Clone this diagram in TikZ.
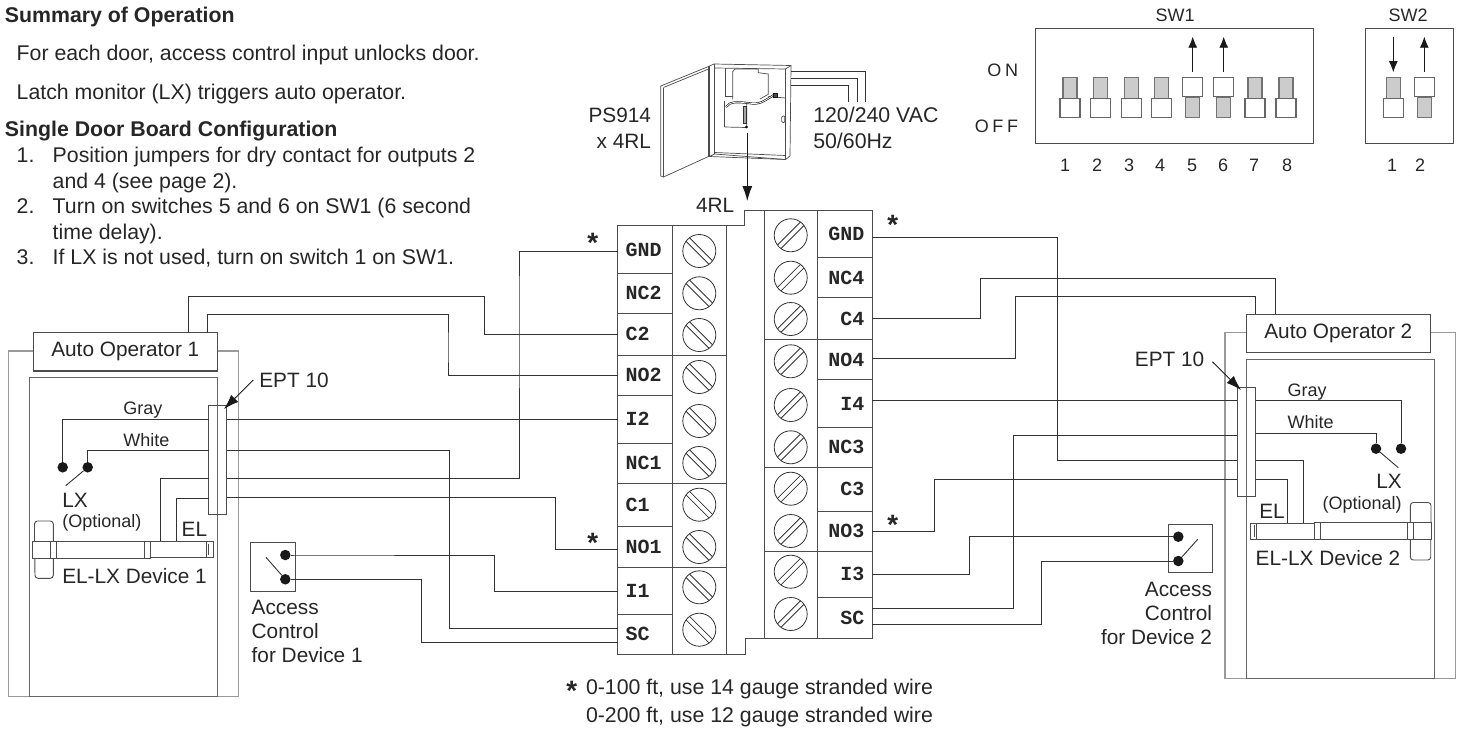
\documentclass[tikz,border=0pt]{standalone}
\usepackage{fontspec}
\usepackage{tikz}
\usetikzlibrary{arrows.meta}
\setmainfont{Liberation Sans}
\setmonofont{Liberation Mono}
\newfontfamily\spacedfont[LetterSpace=20]{Liberation Sans}
\tikzset{
  txt/.style={inner sep=0pt, outer sep=0pt, text=black!85, font=\fontsize{20.8}{24}\selectfont},
  para/.style={txt, font=\fontsize{21.3}{24}\selectfont},
  small/.style={txt, font=\fontsize{18}{21}\selectfont},
  head/.style={txt, font=\fontsize{21.3}{24}\selectfont\bfseries},
  star/.style={inner sep=0pt, text=black!85, font=\fontsize{28}{28}\ttfamily\bfseries},
  wire/.style={draw=black!80, line width=0.9pt},
  thinbox/.style={draw=black!70, line width=1pt},
  dooroff/.style={draw=black!40, line width=1.2pt},
  dev/.style={draw=black!70, line width=0.9pt},
  cab/.style={draw=black!70, line width=0.7pt},
  devbox/.style={rectangle, dev, fill=white, inner sep=0pt, outer sep=0pt},
  opbox/.style={rectangle, draw=black!70, fill=white, line width=1.1pt, inner sep=0pt, outer sep=0pt, text=black!85, font=\fontsize{20.8}{24}\selectfont},
  eptbox/.style={rectangle, draw=black!70, line width=1pt, inner sep=0pt, outer sep=0pt},
  dot/.style={circle, fill=black!90, inner sep=0pt, minimum size=10.5pt},
  termL/.style={rectangle, thinbox, anchor=west, inner xsep=8pt, inner ysep=0pt, outer sep=0pt, text width=39pt, align=left, text=black!85, font=\fontsize{20}{20}\ttfamily\bfseries},
  termR/.style={rectangle, thinbox, anchor=east, inner xsep=8pt, inner ysep=0pt, outer sep=0pt, text width=39pt, align=right, text=black!85, font=\fontsize{20}{20}\ttfamily\bfseries},
  screwL/.style={circle, draw=black!80, line width=0.8pt, minimum size=33pt, inner sep=0pt, path picture={
    \draw[black!80, line width=0.8pt] ([shift={(-18,-14.5)}]path picture bounding box.center) -- ([shift={(14.5,18)}]path picture bounding box.center);
    \draw[black!80, line width=0.8pt] ([shift={(-14.5,-18)}]path picture bounding box.center) -- ([shift={(18,14.5)}]path picture bounding box.center);}},
  screwR/.style={circle, draw=black!80, line width=0.8pt, minimum size=33pt, inner sep=0pt, path picture={
    \draw[black!80, line width=0.8pt] ([shift={(18,-14.5)}]path picture bounding box.center) -- ([shift={(-14.5,18)}]path picture bounding box.center);
    \draw[black!80, line width=0.8pt] ([shift={(14.5,-18)}]path picture bounding box.center) -- ([shift={(-18,14.5)}]path picture bounding box.center);}},
  keyknob/.style={rectangle, draw=black!55, fill=black!20, line width=1.1pt, minimum width=14pt, minimum height=20.5pt, inner sep=0pt},
  keycap/.style={rectangle, draw=black!60, fill=white, line width=1.1pt, minimum width=20pt, minimum height=19.5pt, inner sep=0pt},
  fatarrow/.style={draw=black!90, line width=0.9pt, -{Latex[length=15pt,width=10pt]}},
  keyarrow/.style={draw=black!90, line width=0.9pt, -{Latex[length=11pt,width=9pt]}}
}
\begin{document}
\begin{tikzpicture}[x=1pt, y=-1pt]
  \useasboundingbox (0,0) rectangle (1458,731);

  % Testo in alto a sinistra
  \node[head, anchor=base west] (sumhead) at (5,22.7) {Summary of Operation};
  \node[para, anchor=base west] (sumone) at (16.7,60) {For each door, access control input unlocks door.};
  \node[para, anchor=base west] (sumtwo) at (16.7,99) {Latch monitor (LX) triggers auto operator.};
  \node[head, anchor=base west] (cfghead) at (5,136) {Single Door Board Configuration};
  \node[para, anchor=base west] (numone) at (16.7,162.3) {1.};
  \node[para, anchor=base west] (cfgonea) at (52.7,162.3) {Position jumpers for dry contact for outputs 2};
  \node[para, anchor=base west] (cfgoneb) at (52.7,188.3) {and 4 (see page 2).};
  \node[para, anchor=base west] (numtwo) at (16.7,213.3) {2.};
  \node[para, anchor=base west] (cfgtwoa) at (52.7,213.3) {Turn on switches 5 and 6 on SW1 (6 second};
  \node[para, anchor=base west] (cfgtwob) at (52.7,239) {time delay).};
  \node[para, anchor=base west] (numthree) at (16.7,264.3) {3.};
  \node[para, anchor=base west] (cfgthree) at (52.7,264.3) {If LX is not used, turn on switch 1 on SW1.};

  % Alimentatore
  \draw[cab, fill=white] (660.7,86) -- (708.5,66.5) -- (708.5,156.5) -- (663.5,177) -- (660.7,176) -- cycle;
  \draw[cab] (663.5,87.5) -- (708.5,69);
  \draw[cab] (663.5,87.5) -- (663.5,177);
  \draw[cab, fill=white] (709.5,66) -- (714,64) -- (791,65.5) -- (790,156) -- (785.5,159.5) -- (709.5,156.5) -- cycle;
  \draw[cab] (714.5,64) -- (714.5,154) -- (785.5,159.5);
  \draw[cab] (709.5,156.5) -- (714.5,154);
  \draw[cab] (714.5,152.5) -- (785.5,155.5);
  \draw[cab] (714.5,68) -- (785.5,69) -- (785.5,159.5);
  \draw[cab] (785.5,69) -- (791,65.5);
  \draw[cab] (725,68) -- (725,96.5) -- (732.7,96.5);
  \draw[cab] (768.3,96.5) -- (785.5,98);
  \draw[cab] (732.7,99.3) -- (732.7,71.7) -- (735,69) -- (758.3,69) -- (758.3,72.7) -- (768.3,74) -- (768.3,94.3) -- (760,99);
  \draw[cab] (724.3,127) -- (724.3,100.7);
  \draw[cab] (724.3,127) -- (746.7,127.5) -- (746.7,103);
  \draw[black!90, line width=2pt] (726,107) .. controls (730,101) and (738,102) .. (748,103) .. controls (760,105) and (762,102) .. (774,95);
  \draw[white, line width=0.7pt] (726,107) .. controls (730,101) and (738,102) .. (748,103) .. controls (760,105) and (762,102) .. (774,95);
  \draw[fill=black!70, draw=black!90] (773.5,93) rectangle (777.5,97);
  \draw[draw=black!80, fill=black!35, line width=0.5pt] (743,106) rectangle (746.5,123);
  \draw[fill=black] (746.5,127) circle (1.2);
  \draw[cab, rounded corners=1pt] (781.8,116) rectangle (784.8,122.5);
  \coordinate (psu) at (747.3,133);
  \coordinate (psuout) at (747.3,201);
  \coordinate (mainsa) at (791,71);
  \coordinate (mainsb) at (791,78.3);
  \coordinate (mainsc) at (791,85.7);
  \coordinate (mainsaend) at (865.3,101.7);
  \coordinate (mainsbend) at (857.3,101.7);
  \coordinate (mainscend) at (848.7,101.7);
  \draw[wire] (mainsa) -| (mainsaend);
  \draw[wire] (mainsb) -| (mainsbend);
  \draw[wire] (mainsc) -| (mainscend);
  \draw[fatarrow] (psu) -- (psuout);
  \node[txt, anchor=base east] (psname) at (651,122.7) {PS914};
  \node[txt, anchor=base east] (psrelay) at (651,148.3) {x 4RL};
  \node[para, anchor=base west] (psvolt) at (813.3,122.7) {120/240 VAC};
  \node[para, anchor=base west] (psfreq) at (813.3,148.3) {50/60Hz};
  \node[txt, anchor=base west] (relay) at (696,212.7) {4RL};

  % Interruttori SW1 e SW2
  \node[small, anchor=base] (swonename) at (1175,21.7) {SW1};
  \node[small, anchor=base] (swtwoname) at (1408,21.7) {SW2};
  \node[rectangle, thinbox, minimum width=277.6pt, minimum height=114.7pt, inner sep=0pt] (swone) at (1174.5,86.3) {};
  \node[rectangle, thinbox, minimum width=88.4pt, minimum height=114.7pt, inner sep=0pt] (swtwo) at (1409.5,86.3) {};
  \node[small, anchor=base east, font=\fontsize{18}{21}\spacedfont] (onlabel) at (1018,76) {ON};
  \node[small, anchor=base east, font=\fontsize{18}{21}\spacedfont] (offlabel) at (1018,132.3) {OFF};
  \node[keyknob] (ka) at (1070,88) {};
  \node[keycap] (kca) at (1070,108) {};
  \node[keyknob] (kb) at (1100.3,88) {};
  \node[keycap] (kcb) at (1100.3,108) {};
  \node[keyknob] (kc) at (1131.7,88) {};
  \node[keycap] (kcc) at (1131.7,108) {};
  \node[keyknob] (kd) at (1161.3,88) {};
  \node[keycap] (kcd) at (1161.3,108) {};
  \node[keyknob] (ke) at (1192.7,107.3) {};
  \node[keycap] (kce) at (1192.7,87) {};
  \node[keyknob] (kf) at (1223.7,107.3) {};
  \node[keycap] (kcf) at (1223.7,87) {};
  \node[keyknob] (kg) at (1255,88) {};
  \node[keycap] (kcg) at (1255,108) {};
  \node[keyknob] (kh) at (1286,88) {};
  \node[keycap] (kch) at (1286,108) {};
  \node[keyknob] (ki) at (1393.3,88) {};
  \node[keycap] (kci) at (1393.3,108) {};
  \node[keyknob] (kj) at (1424.3,107.3) {};
  \node[keycap] (kcj) at (1424.3,87) {};
  \coordinate (ke top) at (1192.7,36.7);
  \coordinate (kf top) at (1223.7,36.7);
  \coordinate (ki top) at (1393.3,36.7);
  \coordinate (kj top) at (1424.3,36.7);
  \draw[keyarrow] ([yshift=5pt]kce.north) -- (ke top);
  \draw[keyarrow] ([yshift=5pt]kcf.north) -- (kf top);
  \draw[keyarrow] (ki top) -- ([yshift=5pt]ki.north);
  \draw[keyarrow] ([yshift=5pt]kcj.north) -- (kj top);
  \node[small, anchor=base] (na) at (1065,171.7) {1};
  \node[small, anchor=base] (nb) at (1097,171.7) {2};
  \node[small, anchor=base] (nc) at (1129,171.7) {3};
  \node[small, anchor=base] (nd) at (1160,171.7) {4};
  \node[small, anchor=base] (ne) at (1192,171.7) {5};
  \node[small, anchor=base] (nf) at (1223,171.7) {6};
  \node[small, anchor=base] (ng) at (1254,171.7) {7};
  \node[small, anchor=base] (nh) at (1287,171.7) {8};
  \node[small, anchor=base] (ni) at (1392,171.7) {1};
  \node[small, anchor=base] (nj) at (1420,171.7) {2};

  % Morsettiera
  \draw[thinbox] (726,225.7) -- (744.7,225.7) -- (744.7,210) -- (764,210);
  \draw[thinbox] (726,654) -- (745.3,654) -- (745.3,638.7) -- (764,638.7);
  \draw[thinbox] (672.7,225.7) rectangle (726,355);
  \draw[thinbox] (672.7,355) rectangle (726,483.3);
  \draw[thinbox] (672.7,483.3) rectangle (726,567.3);
  \draw[thinbox] (672.7,567.3) rectangle (726,654);
  \draw[thinbox] (764,210) rectangle (817.3,339.3);
  \draw[thinbox] (764,339.3) rectangle (817.3,467.3);
  \draw[thinbox] (764,467.3) rectangle (817.3,551.3);
  \draw[thinbox] (764,551.3) rectangle (817.3,638.7);

  \node[termL, minimum height=47.6pt] (lGND) at (617.7,249.5) {GND};
  \node[termL, minimum height=40pt] (lNCtwo) at (617.7,293.3) {NC2};
  \node[termL, minimum height=41.7pt] (lCtwo) at (617.7,334.2) {C2};
  \node[termL, minimum height=40.3pt] (lNOtwo) at (617.7,375.2) {NO2};
  \node[termL, minimum height=48pt] (lItwo) at (617.7,419.3) {I2};
  \node[termL, minimum height=40pt] (lNCone) at (617.7,463.3) {NC1};
  \node[termL, minimum height=43.4pt] (lCone) at (617.7,505) {C1};
  \node[termL, minimum height=40.6pt] (lNOone) at (617.7,547) {NO1};
  \node[termL, minimum height=46.7pt] (lIone) at (617.7,590.7) {I1};
  \node[termL, minimum height=40pt] (lSC) at (617.7,634) {SC};

  \node[termR, minimum height=47.3pt] (rGND) at (872.3,233.7) {GND};
  \node[termR, minimum height=40.4pt] (rNCfour) at (872.3,277.5) {NC4};
  \node[termR, minimum height=41.6pt] (rCfour) at (872.3,318.5) {C4};
  \node[termR, minimum height=40.4pt] (rNOfour) at (872.3,359.5) {NO4};
  \node[termR, minimum height=47.6pt] (rIfour) at (872.3,403.5) {I4};
  \node[termR, minimum height=40pt] (rNCthree) at (872.3,447.3) {NC3};
  \node[termR, minimum height=43.7pt] (rCthree) at (872.3,489.2) {C3};
  \node[termR, minimum height=40.3pt] (rNOthree) at (872.3,531.2) {NO3};
  \node[termR, minimum height=46pt] (rIthree) at (872.3,574.3) {I3};
  \node[termR, minimum height=41.4pt] (rSC) at (872.3,618) {SC};

  \node[screwL] (sa) at (699.3,251) {};
  \node[screwL] (sb) at (699.3,293.3) {};
  \node[screwL] (sc) at (699.3,335) {};
  \node[screwL] (sd) at (699.3,377) {};
  \node[screwL] (se) at (699.3,421) {};
  \node[screwL] (sf) at (699.3,463) {};
  \node[screwL] (sg) at (699.3,504.7) {};
  \node[screwL] (sh) at (699.3,547) {};
  \node[screwL] (si) at (699.3,587.3) {};
  \node[screwL] (sj) at (699.3,629.7) {};
  \node[screwR] (ta) at (790.7,235.3) {};
  \node[screwR] (tb) at (790.7,277.7) {};
  \node[screwR] (tc) at (790.7,319) {};
  \node[screwR] (td) at (790.7,361.3) {};
  \node[screwR] (te) at (790.7,405) {};
  \node[screwR] (tf) at (790.7,447.3) {};
  \node[screwR] (tg) at (790.7,488.7) {};
  \node[screwR] (th) at (790.7,531) {};
  \node[screwR] (ti) at (790.7,571.7) {};
  \node[screwR] (tj) at (790.7,614) {};

  \node[star] (stara) at (592.7,243) {*};
  \node[star] (starb) at (592.7,543) {*};
  \node[star] (starc) at (892.7,225.7) {*};
  \node[star] (stard) at (892.7,525.7) {*};
  \node[star] (starnote) at (571.7,691) {*};
  \node[para, anchor=base west] (notea) at (586,694) {0-100 ft, use 14 gauge stranded wire};
  \node[para, anchor=base west] (noteb) at (586,722.3) {0-200 ft, use 12 gauge stranded wire};

  % Porta 1
  \draw[dooroff] (8.3,351) rectangle (238.7,696.7);
  \draw[draw=black!60, line width=1pt] (29.3,377.7) rectangle (217.5,696.7);
  \node[opbox, minimum width=184pt, minimum height=38.3pt] (opone) at (125.3,351.8) {Auto Operator 1};
  \node[eptbox, minimum width=18pt, minimum height=108.7pt] (eptone) at (217.7,460.3) {};
  \node[txt, anchor=west] (eptonename) at (259.3,380) {EPT 10};
  \coordinate (eptonefrom) at (253.3,380);
  \coordinate (eptoneto) at (224,409);
  \draw[fatarrow] (eptonefrom) -- (eptoneto);
  \node[small, anchor=base west] (grayone) at (123.3,414.3) {Gray};
  \node[small, anchor=base west] (whiteone) at (123.3,446.7) {White};
  \node[dot] (dotaa) at (62.7,467.3) {};
  \node[dot] (dotab) at (87.7,467.3) {};
  \coordinate (lxone) at (65.7,485.7);
  \draw[wire] (dotab) -- (lxone);
  \node[txt, anchor=base west] (lxonename) at (62.3,507.7) {LX};
  \node[small, anchor=base west] (optone) at (62.3,527.3) {(Optional)};
  \node[txt, anchor=base west] (elone) at (181.7,536) {EL};
  \node[txt, anchor=base west] (devone) at (62.3,583.3) {EL-LX Device 1};
  \draw[dev, rounded corners=3pt, fill=white] (34.5,545) -- (34.5,521) -- (53.3,521) -- (53.3,545);
  \draw[dev, rounded corners=3pt, fill=white] (34.8,555) -- (35,578.3) -- (53.3,578.3) -- (53.3,555);
  \node[devbox, minimum width=18.5pt, minimum height=17pt] (hubone) at (41.9,549.8) {};
  \node[devbox, minimum width=6pt, minimum height=17pt] (colaone) at (53.7,549.8) {};
  \node[devbox, minimum width=88pt, minimum height=17pt] (barone) at (100.7,549.8) {};
  \node[devbox, minimum width=5.3pt, minimum height=17pt] (colbone) at (147.3,549.8) {};
  \node[devbox, minimum width=56.7pt, minimum height=16pt] (tipone) at (178.3,549.3) {};
  \node[devbox, minimum width=6.6pt, minimum height=16pt] (capone) at (210,549.3) {};
  \draw[dev] (208.7,543.5) -- (208.7,555);

  % Fili porta 1
  \draw[wire] (opone.north -| 188.3,0) -- (188.3,296.3) -| (484.3,320) |- (lCtwo.west);
  \draw[wire] (opone.north -| 207.3,0) -- (207.3,314.3) -| (448,350) |- (lNOtwo.west);
  \draw[wire] (eptone.east |- lItwo.west) -- (lItwo.west);
  \coordinate (eptonec) at (226.7,450.7);
  \coordinate (eptoned) at (226.7,478.3);
  \coordinate (eptonee) at (226.7,497.3);
  \draw[wire] (eptonec) -| (449.3,600) |- ([yshift=5.5pt]lSC.west);
  \draw[wire] (eptoned) -| (519,300) |- ([yshift=-1.5pt]lGND.west);
  \draw[wire] (eptonee) -| (555.3,520) |- ([yshift=-2.3pt]lNOone.west);
  \coordinate (elonea) at (160.3,541.3);
  \coordinate (eloneb) at (176,541.3);
  \draw[wire] (dotaa) |- (eptone.west |- lItwo.west);
  \draw[wire] (dotab) |- (eptone.west |- eptonec);
  \draw[wire] (elonea) |- (eptone.west |- eptoned);
  \draw[wire] (eloneb) |- (eptone.west |- 0,498.3);

  % Comando accesso 1
  \node[rectangle, thinbox, minimum width=44.7pt, minimum height=49.4pt, inner sep=0pt] (accone) at (273.3,567) {};
  \node[dot] (dotba) at (285.3,555) {};
  \node[dot] (dotbb) at (285.3,579.3) {};
  \coordinate (acconesw) at (266,557.3);
  \draw[wire] (acconesw) -- (dotbb);
  \draw[wire] (dotba) -- (accone.east |- dotba) -| (494.3,570) |- ([yshift=-1pt]lIone.west);
  \draw[wire] (dotbb) -- (accone.east |- dotbb) -| (421.7,610) |- ([yshift=-8pt]lSC.west);
  \node[txt, anchor=north west, align=left] (acconename) at (251.7,600) {Access\\Control\\for Device 1};

  % Porta 2
  \draw[dooroff] (1225,332.3) rectangle (1455.3,678.3);
  \draw[draw=black!60, line width=1pt] (1246.3,359.3) rectangle (1434.7,678.3);
  \node[opbox, minimum width=184pt, minimum height=38.3pt] (optwo) at (1338.3,333.2) {Auto Operator 2};
  \node[eptbox, minimum width=18.4pt, minimum height=109pt] (epttwo) at (1246.5,441.8) {};
  \node[txt, anchor=east] (epttwoname) at (1204.3,359.3) {EPT 10};
  \coordinate (epttwofrom) at (1212.3,361.7);
  \coordinate (epttwoto) at (1241,390);
  \draw[fatarrow] (epttwofrom) -- (epttwoto);
  \node[small, anchor=base west] (graytwo) at (1287.7,396.7) {Gray};
  \node[small, anchor=base west] (whitetwo) at (1287.7,428.3) {White};
  \node[dot] (dotca) at (1401,448.7) {};
  \node[dot] (dotcb) at (1376,448.7) {};
  \coordinate (lxtwo) at (1398.3,467.7);
  \draw[wire] (dotcb) -- (lxtwo);
  \node[txt, anchor=base east] (lxtwoname) at (1401.7,488.7) {LX};
  \node[small, anchor=base east] (opttwo) at (1401.7,509.5) {(Optional)};
  \node[txt, anchor=base west] (eltwo) at (1259.3,518.3) {EL};
  \node[txt, anchor=base west] (devtwo) at (1255.7,565) {EL-LX Device 2};
  \draw[dev, rounded corners=3pt, fill=white] (1410.3,526) -- (1410.3,502.5) -- (1431,502.5) -- (1431,526);
  \draw[dev, rounded corners=3pt, fill=white] (1410.3,536) -- (1410.3,560) -- (1430.7,560) -- (1430.7,536);
  \node[devbox, minimum width=18pt, minimum height=16.6pt] (hubtwo) at (1422.3,531) {};
  \node[devbox, minimum width=6.4pt, minimum height=16.6pt] (colatwo) at (1410.5,531) {};
  \node[devbox, minimum width=87.3pt, minimum height=16.6pt] (bartwo) at (1363.6,531) {};
  \node[devbox, minimum width=5.7pt, minimum height=16.6pt] (colbtwo) at (1317.2,531) {};
  \node[devbox, minimum width=57.6pt, minimum height=16pt] (tiptwo) at (1285.5,531) {};
  \node[devbox, minimum width=6pt, minimum height=16pt] (captwo) at (1253.7,531) {};
  \draw[dev] (1254.8,525) -- (1254.8,537);

  % Fili porta 2
  \draw[wire] (optwo.north -| 1275,0) -- (1275,278.3) -| (980.3,300) |- (rCfour.east);
  \draw[wire] (optwo.north -| 1255.7,0) -- (1255.7,296) -| (1015.3,330) |- ([yshift=1.2pt]rNOfour.east);
  \coordinate (epttwoa) at (1237.3,400.5);
  \coordinate (epttwob) at (1237.3,435);
  \coordinate (epttwoc) at (1237.3,460.3);
  \coordinate (epttwod) at (1237.3,479);
  \draw[wire] (epttwoa) -- (epttwoa -| rIfour.east);
  \draw[wire] (epttwoc) -| (1057.3,300) |- ([yshift=-3.3pt]rGND.east);
  \draw[wire] (epttwod) -| (934.3,500) |- (rNOthree.east);
  \draw[wire] (epttwob) -| (1013.7,500) |- ([yshift=9.3pt]rSC.east);
  \coordinate (eltwoa) at (1303.3,522.7);
  \coordinate (eltwob) at (1287.7,522.7);
  \draw[wire] (dotca) |- (epttwo.east |- epttwoa);
  \draw[wire] (dotcb) |- (epttwo.east |- 0,433.3);
  \draw[wire] (eltwoa) |- (epttwo.east |- epttwoc);
  \draw[wire] (eltwob) |- (epttwo.east |- epttwod);

  % Comando accesso 2
  \node[rectangle, thinbox, minimum width=44.4pt, minimum height=48.4pt, inner sep=0pt] (acctwo) at (1190.5,548.5) {};
  \node[dot] (dotda) at (1178.3,536.7) {};
  \node[dot] (dotdb) at (1178.3,561) {};
  \coordinate (acctwosw) at (1197.7,539.3);
  \draw[wire] (dotdb) -- (acctwosw);
  \draw[wire] (dotda) -| (969.3,550) |- (rIthree.east);
  \draw[wire] (dotdb) -| (1041.3,600) |- ([yshift=-6pt]rSC.east);
  \node[txt, anchor=north east, align=right] (acctwoname) at (1212,582) {Access\\Control\\for Device 2};
\end{tikzpicture}
\end{document}
